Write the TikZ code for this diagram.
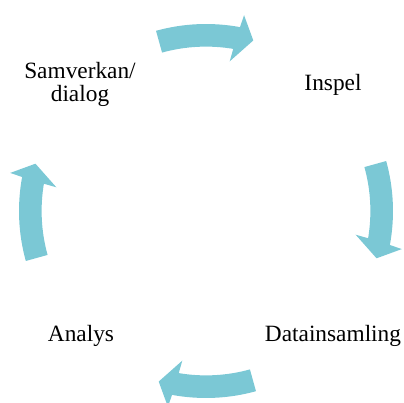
\documentclass[tikz,border=0pt]{standalone}
\usepackage{fontspec}
\setmainfont{Liberation Serif}
\definecolor{cyclefill}{RGB}{123,200,213}
% one curved block arrow of the cycle, centred on direction #1 (degrees),
% running clockwise from tail (#1+15.5) to tip (#1-15.5)
\newcommand{\cyclearrow}[1]{%
  \fill[cyclefill]
    (#1+15.5:187) arc[start angle=#1+15.5, end angle=#1-10.48, radius=187]
    -- (#1-11:199.5) -- (#1-15.5:177) -- (#1-9:151.5) -- (#1-9.54:164.4)
    arc[start angle=#1-9.54, end angle=#1+15.5, radius=164.4] -- cycle;}
\begin{document}
\begin{tikzpicture}[x=0.75pt, y=0.75pt,
  steplabel/.style={font=\fontsize{17.5pt}{17.5pt}\selectfont, anchor=base,
    inner sep=0pt, align=center}]
  \useasboundingbox (-206,-192) rectangle (198,211);
  \coordinate (hub) at (0,0);
  % arrows between the four stages
  \begin{scope}[shift={(hub)}]
    \cyclearrow{90}
    \cyclearrow{0}
    \cyclearrow{-90}
    \cyclearrow{180}
  \end{scope}
  % stage labels
  \node[steplabel] (inspel) at (127,120) {Inspel};
  \node[steplabel] (datainsamling) at (127,-131) {Datainsamling};
  \node[steplabel] (analys) at (-125,-131) {Analys};
  \node[steplabel] (samverkan) at (-126,109.3) {Samverkan/\\dialog};
\end{tikzpicture}
\end{document}
